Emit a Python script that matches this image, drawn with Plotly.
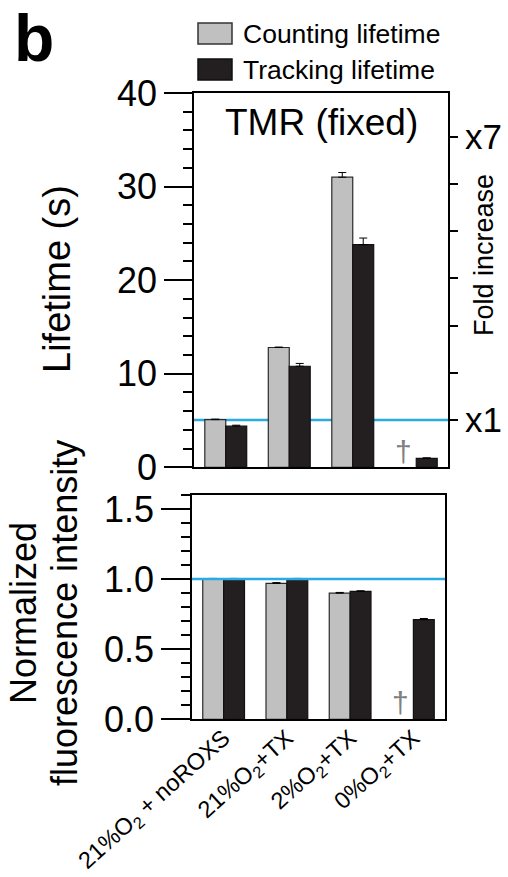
import plotly.graph_objects as go

# ---------------- data ----------------
categories = ["21%O<sub>2</sub> + noROXS", "21%O<sub>2</sub>+TX", "2%O<sub>2</sub>+TX", "0%O<sub>2</sub>+TX"]
series_names = ["Counting lifetime", "Tracking lifetime"]

counting_lifetime = [5.1, 12.8, 31.0, None]
counting_lifetime_err = [0.05, 0.05, 0.5, 0]
tracking_lifetime = [4.4, 10.8, 23.8, 0.96]
tracking_lifetime_err = [0.1, 0.3, 0.7, 0.05]

counting_intensity = [1.0, 0.97, 0.90, None]
counting_intensity_err = [0.005, 0.005, 0.005, 0]
tracking_intensity = [1.0, 1.0, 0.912, 0.711]
tracking_intensity_err = [0.005, 0.005, 0.005, 0.008]

baseline_lifetime = 5.05      # x1 fold reference
fold_ticks = [1, 2, 3, 4, 5, 6, 7]
fold_labels = ["x1", "", "", "", "", "", "x7"]
lifetime_ticks = [0, 10, 20, 30, 40]
intensity_ticks = [0.0, 0.5, 1.0, 1.5]

# ---------------- style ----------------
W, H = 508, 877
FONT = "Liberation Sans, Arial, Helvetica, sans-serif"
GRAY = "#c0c0c0"
BLACK = "#231f20"
BLUE = "#29abe2"
xs = list(range(len(categories)))


def px(x):
    return x / W


def py(y):
    return (H - y) / H


fig = go.Figure()

err_style = dict(type="data", symmetric=False, color="black", thickness=1, width=4)

# top panel bars
fig.add_trace(go.Bar(x=xs, y=counting_lifetime, name=series_names[0], marker=dict(color=GRAY, line=dict(color="#2a2a2a", width=1.2)),
                     error_y=dict(array=counting_lifetime_err, arrayminus=[0] * 4, **err_style),
                     xaxis="x", yaxis="y", offsetgroup="a", showlegend=False))
fig.add_trace(go.Bar(x=xs, y=tracking_lifetime, name=series_names[1], marker=dict(color=BLACK, line=dict(color="#111", width=1.2)),
                     error_y=dict(array=tracking_lifetime_err, arrayminus=[0] * 4, **err_style),
                     xaxis="x", yaxis="y", offsetgroup="b", showlegend=False))
# invisible trace to activate fold axis
fig.add_trace(go.Scatter(x=[0], y=[1], mode="markers", marker=dict(opacity=0), xaxis="x", yaxis="y3",
                         showlegend=False, hoverinfo="skip"))

# bottom panel bars
fig.add_trace(go.Bar(x=xs, y=counting_intensity, name=series_names[0], marker=dict(color=GRAY, line=dict(color="#2a2a2a", width=1.2)),
                     error_y=dict(array=counting_intensity_err, arrayminus=[0] * 4, **err_style),
                     xaxis="x2", yaxis="y2", offsetgroup="a", showlegend=False))
fig.add_trace(go.Bar(x=xs, y=tracking_intensity, name=series_names[1], marker=dict(color=BLACK, line=dict(color="#111", width=1.2)),
                     error_y=dict(array=tracking_intensity_err, arrayminus=[0] * 4, **err_style),
                     xaxis="x2", yaxis="y2", offsetgroup="b", showlegend=False))

axis_common = dict(showline=True, linecolor="black", linewidth=1.5, showgrid=False, zeroline=False, automargin=False,
                   tickcolor="black", tickwidth=1.5, tickfont=dict(family=FONT, size=36, color="black"))

top_dom = [py(467.3), py(93)]
bot_dom = [py(719.3), py(495)]

fig.update_layout(
    width=W, height=H, autosize=False,
    margin=dict(l=0, r=0, t=0, b=0, autoexpand=False),
    paper_bgcolor="white", plot_bgcolor="white",
    barmode="group", bargap=0.34, bargroupgap=0,
    font=dict(family=FONT, color="black"),
    xaxis=dict(domain=[px(194), px(448)], anchor="y", range=[-0.5, 3.5], showticklabels=False, ticks="",
               mirror=True, **{k: v for k, v in axis_common.items() if k != "tickfont"}),
    yaxis=dict(domain=top_dom, anchor="x", range=[0, 40], tickvals=lifetime_ticks, ticks="outside", ticklen=28,
               minor=dict(dtick=2, ticks="outside", ticklen=9, tickcolor="black", tickwidth=1.5),
               mirror=True, **axis_common),
    yaxis3=dict(overlaying="y", anchor="x", side="right", range=[0, 40 / baseline_lifetime],
                tickvals=fold_ticks, ticktext=fold_labels, ticks="outside", ticklen=9, automargin=False,
                tickcolor="black", tickwidth=1.5, showline=False, showgrid=False, zeroline=False,
                tickfont=dict(family=FONT, size=35, color="black")),
    xaxis2=dict(domain=[px(192), px(445)], anchor="y2", range=[-0.5, 3.5], tickvals=xs, ticktext=categories,
                tickangle=-42, ticks="", mirror=True, ticklabelstandoff=-6,
                **{**axis_common, "tickfont": dict(family=FONT, size=23.5, color="black")}),
    yaxis2=dict(domain=bot_dom, anchor="x2", range=[0, 1.6], tickvals=intensity_ticks, tickformat=".1f",
                ticks="outside", ticklen=29,
                minor=dict(dtick=0.1, ticks="outside", ticklen=9, tickcolor="black", tickwidth=1.5),
                mirror=True, **axis_common),
)

# reference (x1) lines
fig.add_shape(type="line", xref="x", yref="y", x0=-0.5, x1=3.5, y0=baseline_lifetime, y1=baseline_lifetime,
              line=dict(color=BLUE, width=2.5), layer="below")
fig.add_shape(type="line", xref="x2", yref="y2", x0=-0.5, x1=3.5, y0=1.0, y1=1.0,
              line=dict(color=BLUE, width=2.5), layer="above")

# legend (manual)
fig.add_shape(type="rect", xref="paper", yref="paper", x0=px(198), x1=px(232), y0=py(44), y1=py(23),
              fillcolor=GRAY, line=dict(color="#333", width=1.5))
fig.add_shape(type="rect", xref="paper", yref="paper", x0=px(198), x1=px(232), y0=py(80), y1=py(59),
              fillcolor=BLACK, line=dict(color="#111", width=1.5))
fig.add_annotation(x=px(241), y=py(34), xref="paper", yref="paper", text=series_names[0], showarrow=False,
                   xanchor="left", yanchor="middle", font=dict(family=FONT, size=26.5, color="black"))
fig.add_annotation(x=px(241), y=py(70), xref="paper", yref="paper", text=series_names[1], showarrow=False,
                   xanchor="left", yanchor="middle", font=dict(family=FONT, size=26.5, color="black"))

# panel letter
fig.add_annotation(x=px(12), y=py(38), xref="paper", yref="paper", text="<b>b</b>", showarrow=False,
                   xanchor="left", yanchor="middle", font=dict(family=FONT, size=66, color="black"))

# panel title
fig.add_annotation(x=px(321), y=py(122), xref="paper", yref="paper", text="TMR (fixed)", showarrow=False,
                   xanchor="center", yanchor="middle", font=dict(family=FONT, size=37, color="black"))

# axis titles
fig.add_annotation(x=px(57), y=py(279), xref="paper", yref="paper", text="Lifetime (s)", showarrow=False,
                   textangle=-90, xanchor="center", yanchor="middle", font=dict(family=FONT, size=38, color="black"))
fig.add_annotation(x=px(484), y=py(255), xref="paper", yref="paper", text="Fold increase", showarrow=False,
                   textangle=-90, xanchor="center", yanchor="middle", font=dict(family=FONT, size=27, color="black"))
fig.add_annotation(x=px(23), y=py(613), xref="paper", yref="paper", text="Normalized", showarrow=False,
                   textangle=-90, xanchor="center", yanchor="middle", font=dict(family=FONT, size=36, color="black"))
fig.add_annotation(x=px(64), y=py(613), xref="paper", yref="paper", text="fluorescence intensity", showarrow=False,
                   textangle=-90, xanchor="center", yanchor="middle", font=dict(family=FONT, size=36, color="black"))

# daggers for missing counting lifetime at 0% O2
fig.add_annotation(x=2.8, y=1.7, xref="x", yref="y", text="†", showarrow=False, yanchor="middle",
                   font=dict(family=FONT, size=30, color="#808080"))
fig.add_annotation(x=2.8, y=0.12, xref="x2", yref="y2", text="†", showarrow=False, yanchor="middle",
                   font=dict(family=FONT, size=30, color="#808080"))

fig.write_html("out.html", config={"displayModeBar": False},
               post_script="document.body.style.margin='0';document.body.style.padding='0';"
                           "document.body.style.overflow='hidden';")
